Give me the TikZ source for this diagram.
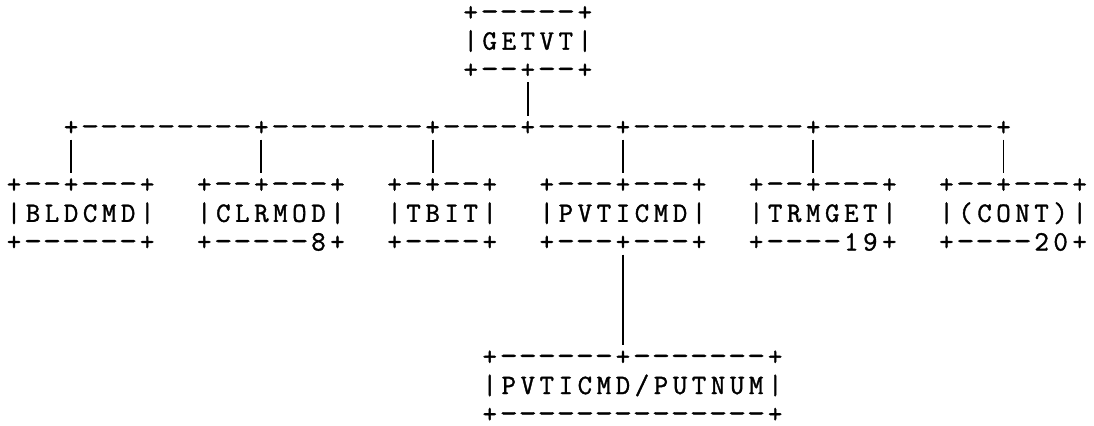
\documentclass[tikz,border=0pt]{standalone}
\usepackage{fontspec}
\usepackage{graphicx}
\newfontfamily\asciifont{Latin Modern Mono}[FakeBold=1.3]
\newlength\cw \setlength\cw{9.515pt}
\newlength\rowh \setlength\rowh{14.35pt}
\ExplSyntaxOn
\NewDocumentCommand\asciichar{m}{
  \str_if_eq:nnTF {#1} {-} {\scalebox{1.25}[1.1]{-}} {#1}
}
\NewDocumentCommand\gridline{m}{
  \hbox{\rule[-0.5pt]{0pt}{9pt}
  \tl_map_inline:nn {#1} {\makebox[\cw][c]{\asciichar{##1}}}}
}
\ExplSyntaxOff
\newcommand\boxlines[3]{\vbox{\baselineskip=\rowh\lineskiplimit=-100pt\gridline{#1}\gridline{#2}\gridline{#3}}}
\tikzset{
  asciibox/.style={inner sep=0pt, outer sep=0pt, font=\fontsize{14}{14.35}\selectfont\asciifont},
  conn/.style={line width=0.9pt, shorten <=1.5pt, shorten >=1.5pt}
}
\begin{document}
\begin{tikzpicture}[x=9.515pt, y=-14.35pt]
\useasboundingbox (-0.7357,-0.45) rectangle (56.753,14.393);
% boxes
\node[asciibox] (getvt) at (27,1) {\boxlines{+-----+}{|GETVT|}{+--+--+}};
\node[asciibox] (bus) at (27.5,4) {\gridline{+---------+--------+----+----+---------+---------+}};
\node[asciibox] (bldcmd) at (3.5,7) {\boxlines{+--+---+}{|BLDCMD|}{+------+}};
\node[asciibox] (clrmod) at (13.5,7) {\boxlines{+--+---+}{|CLRMOD|}{+-----8+}};
\node[asciibox] (tbit) at (22.5,7) {\boxlines{+-+--+}{|TBIT|}{+----+}};
\node[asciibox] (pvticmd) at (32,7) {\boxlines{+---+---+}{|PVTICMD|}{+---+---+}};
\node[asciibox] (trmget) at (42.5,7) {\boxlines{+--+---+}{|TRMGET|}{+----19+}};
\node[asciibox] (cont) at (52.5,7) {\boxlines{+--+---+}{|(CONT)|}{+----20+}};
\node[asciibox] (putnum) at (32.5,13) {\boxlines{+------+-------+}{|PVTICMD/PUTNUM|}{+--------------+}};
% junctions on the bus
\coordinate (j3) at (3,4);
\coordinate (j13) at (13,4);
\coordinate (j22) at (22,4);
\coordinate (j32) at (32,4);
\coordinate (j42) at (42,4);
\coordinate (j52) at (52,4);
% connectors
\draw[conn] (getvt.south) -- (getvt.south |- bus.north);
\draw[conn] (j3 |- bus.south) -- (j3 |- bldcmd.north);
\draw[conn] (j13 |- bus.south) -- (j13 |- clrmod.north);
\draw[conn] (j22 |- bus.south) -- (j22 |- tbit.north);
\draw[conn] (j32 |- bus.south) -- (j32 |- pvticmd.north);
\draw[conn] (j42 |- bus.south) -- (j42 |- trmget.north);
\draw[conn] (j52 |- bus.south) -- (j52 |- cont.north);
\draw[conn] (pvticmd.south) -- (pvticmd.south |- putnum.north);
\end{tikzpicture}
\end{document}
